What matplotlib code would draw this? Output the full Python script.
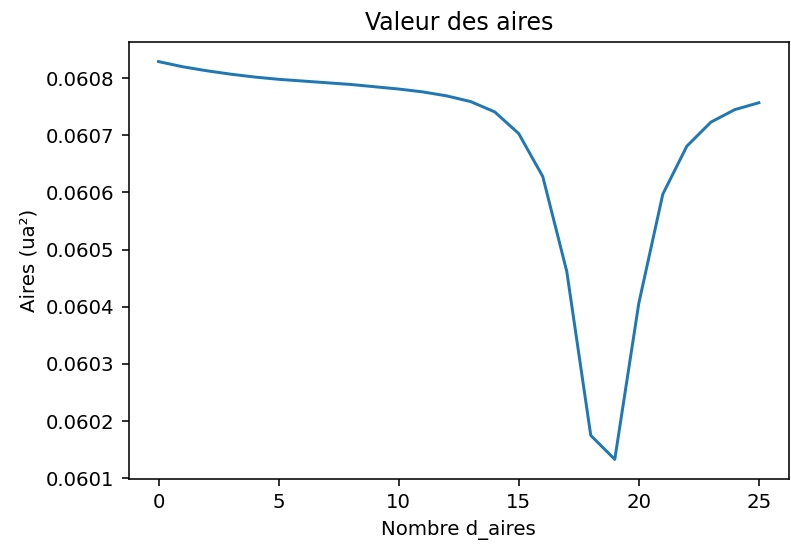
import matplotlib
matplotlib.use("Agg")
import matplotlib.pyplot as plt

nombre = list(range(26))
aires = [0.060829, 0.060820, 0.060813, 0.060807, 0.060802, 0.060798,
         0.060795, 0.060792, 0.060789, 0.060785, 0.060781, 0.060776,
         0.060769, 0.060759, 0.060741, 0.060703, 0.060628, 0.060462,
         0.060175, 0.060133, 0.060406, 0.060597, 0.060681, 0.060723,
         0.060745, 0.060757]

dpi = 142
fig = plt.figure(figsize=(791 / dpi, 548 / dpi), dpi=dpi)
ax = fig.add_axes([0.1625, 0.1254, 0.8348, 0.7985])

ax.plot(nombre, aires, color="#1f77b4", linewidth=1.5)
ax.ticklabel_format(axis="y", useOffset=False)
ax.set_title("Valeur des aires")
ax.set_xlabel("Nombre d_aires")
ax.set_ylabel("Aires (ua²)")

fig.savefig("out.png", dpi=dpi)
